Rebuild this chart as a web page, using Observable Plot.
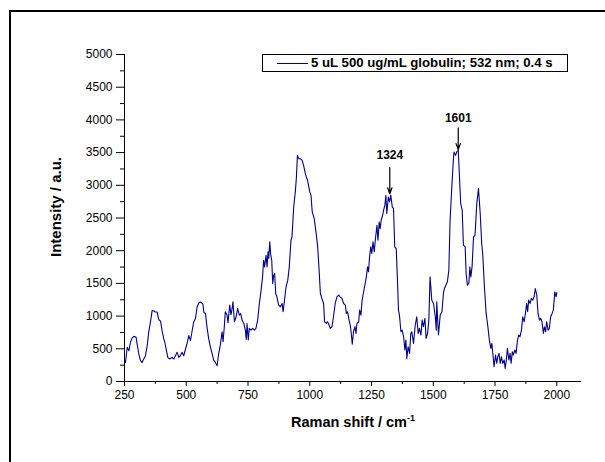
<!DOCTYPE html>
<html><head><meta charset="utf-8">
<script src="https://cdn.jsdelivr.net/npm/d3@7"></script>
<script src="https://cdn.jsdelivr.net/npm/@observablehq/plot@0.6"></script>
<style>
html,body{margin:0;padding:0;background:#fff;}
#fig{position:relative;width:605px;height:462px;overflow:hidden;background:#fff;font-family:"Liberation Sans",Arial,sans-serif;color:#000;}
#frame{position:absolute;left:9px;top:10px;width:700px;height:600px;border-top:2px solid #000;border-left:2px solid #000;}
#chart{position:absolute;left:0;top:0;}
#legend{position:absolute;left:262px;top:54px;width:306px;height:18px;border:1px solid #000;background:#fff;box-sizing:border-box;display:flex;align-items:center;}
#legend .sw{width:31px;height:1px;background:#00008b;margin-left:14px;margin-right:3px;}
#legend .tx{font-weight:bold;font-size:12px;white-space:nowrap;transform:scaleX(1.1);transform-origin:left center;}
#ytitle{position:absolute;left:55px;top:207px;transform:translate(-50%,-50%) rotate(-90deg);font-weight:bold;font-size:15px;white-space:nowrap;}
#xtitle{position:absolute;left:353px;top:415px;transform:translateX(-50%);font-weight:bold;font-size:14.5px;line-height:14px;white-space:nowrap;}
#xtitle sup{font-size:9px;line-height:0;vertical-align:6px;}
</style></head>
<body>
<div id="fig">
  <div id="frame"></div>
  <div id="chart"></div>
  <div id="legend"><div class="sw"></div><div class="tx">5 uL 500 ug/mL globulin; 532 nm; 0.4 s</div></div>
  <div id="ytitle">Intensity / a.u.</div>
  <div id="xtitle">Raman shift / cm<sup>-1</sup></div>
</div>
<script>
const wavenumber = [250,254,261,268,274,281,288,297,301,308,315,321,328,335,342,348,355,362,369,375,382,389,396,402,409,413,420,425,433,443,450,456,463,470,476,483,490,497,503,510,517,524,530,537,544,551,557,567,571,578,584,591,598,605,611,618,625,631,638,645,649,654,658,665,669,676,681,685,689,695,702,708,715,720,726,733,739,743,746,751,755,762,769,776,782,789,796,803,809,813,817,823,827,831,834,838,842,846,850,854,858,862,867,874,881,888,892,897,904,911,917,924,928,935,942,946,950,955,962,969,975,982,986,991,995,1000,1005,1010,1018,1026,1032,1037,1043,1049,1056,1060,1067,1072,1078,1083,1090,1096,1103,1110,1117,1123,1130,1137,1144,1148,1153,1159,1164,1168,1172,1177,1183,1187,1191,1198,1202,1207,1212,1218,1223,1229,1234,1238,1242,1247,1251,1256,1261,1266,1272,1276,1281,1285,1289,1295,1299,1304,1308,1312,1318,1323,1328,1334,1339,1344,1350,1355,1359,1363,1369,1374,1380,1385,1389,1393,1398,1404,1409,1413,1420,1427,1433,1439,1444,1450,1455,1460,1466,1471,1477,1482,1487,1494,1501,1508,1512,1514,1521,1528,1535,1541,1545,1551,1557,1563,1568,1575,1582,1584,1590,1595,1601,1606,1611,1617,1622,1629,1633,1638,1644,1648,1652,1657,1663,1669,1676,1683,1690,1696,1700,1707,1714,1721,1727,1733,1737,1741,1746,1752,1757,1761,1766,1771,1776,1781,1787,1791,1795,1800,1806,1811,1815,1820,1824,1830,1835,1841,1846,1851,1857,1862,1868,1873,1878,1882,1886,1892,1897,1903,1908,1913,1919,1924,1930,1935,1940,1946,1950,1955,1959,1965,1970,1975,1981,1986,1992,1997,2000];
const intensity = [318,290,523,470,600,667,690,677,575,420,318,290,344,395,549,754,908,1087,1077,1062,1062,944,923,780,651,600,472,369,344,369,344,395,446,369,395,446,395,497,575,703,626,780,908,959,1139,1200,1216,1190,1062,1036,831,651,523,421,328,292,241,420,560,761,608,837,1066,1015,900,1168,1020,1100,1219,913,990,1117,1015,1040,939,888,786,644,888,634,812,786,812,786,812,939,1193,1397,1600,1855,1753,1931,1753,1982,1880,2135,1931,1855,1499,1626,1651,1346,1295,1168,1143,1193,1066,1219,1448,1550,1753,2160,2211,2669,2923,3127,3458,3407,3407,3382,3306,3178,3127,3077,3000,2898,2849,2593,2491,2262,2059,1753,1346,1270,1193,913,888,913,863,812,837,990,1193,1295,1321,1295,1270,1193,1168,1041,1066,939,863,735,572,761,837,735,888,913,1092,1015,1244,1372,1473,1600,1753,1677,1906,2059,1957,2135,1982,2186,2389,2160,2440,2338,2466,2542,2619,2695,2847,2568,2822,2746,2847,2670,2644,2059,2033,1550,1092,1015,761,786,684,481,634,354,532,430,736,761,583,863,990,736,812,710,939,837,964,659,736,939,1600,1244,1193,990,786,1219,710,1015,1066,1346,1422,1473,1524,1702,2466,2975,3433,3510,3458,3510,3535,3128,2720,2619,2084,2059,1651,1473,1499,1753,1600,1753,2211,2237,2720,2949,2568,2110,1957,1448,1041,837,634,507,583,430,227,405,278,379,430,278,379,278,328,201,303,507,328,430,278,456,405,481,430,634,710,685,786,990,913,1041,1193,1066,1244,1193,1270,1244,1295,1422,1321,1041,939,964,913,735,837,761,913,786,812,990,1041,1092,1372,1295,1360];

const xMajorTicks = [250,500,750,1000,1250,1500,1750,2000];
const xMinorTicks = [375,625,875,1125,1375,1625,1875];
const yMajorTicks = [0,500,1000,1500,2000,2500,3000,3500,4000,4500,5000];
const yMinorTicks = [250,750,1250,1750,2250,2750,3250,3750,4250,4750];

const peakLabels = ["1324","1601"];
const peakShift = [1324,1601];
const peakArrowTop = [3270,3880];
const peakArrowTip = [2870,3545];
const peakLabelY = [3460,4020];

const spectrum = wavenumber.map((x,i)=>({x, y: intensity[i]}));
const peaks = peakLabels.map((t,i)=>({t, x: peakShift[i], y1: peakArrowTop[i], y2: peakArrowTip[i], ly: peakLabelY[i]}));

const chart = Plot.plot({
  width: 605, height: 462,
  marginLeft: 124, marginRight: 24, marginTop: 54, marginBottom: 81,
  style: {fontFamily: "Liberation Sans, Arial, sans-serif", fontSize: "12px", color: "#000", background: "transparent"},
  x: {domain: [250, 2100], label: null},
  y: {domain: [0, 5000], label: null},
  marks: [
    Plot.axisX(xMajorTicks, {tickSize: 5, tickPadding: 4, tickFormat: d => String(d), label: null, fontSize: 12}),
    Plot.axisX(xMinorTicks, {tickSize: 3, tickFormat: () => "", label: null}),
    Plot.axisY(yMajorTicks, {tickSize: 8, tickPadding: 4, tickFormat: d => String(d), label: null, fontSize: 12}),
    Plot.axisY(yMinorTicks, {tickSize: 4, tickFormat: () => "", label: null}),
    Plot.ruleX([250], {stroke: "#000"}),
    Plot.ruleY([0], {stroke: "#000"}),
    Plot.line(spectrum, {x: "x", y: "y", stroke: "#00008b", strokeWidth: 1.1}),
    Plot.arrow(peaks, {x1: "x", x2: "x", y1: "y1", y2: "y2", stroke: "#000", strokeWidth: 1.2, headLength: 8, headAngle: 40}),
    Plot.text(peaks, {x: "x", y: "ly", text: "t", fontWeight: "bold", fontSize: 12, fill: "#000"})
  ]
});
document.getElementById("chart").appendChild(chart);
</script>
</body></html>
